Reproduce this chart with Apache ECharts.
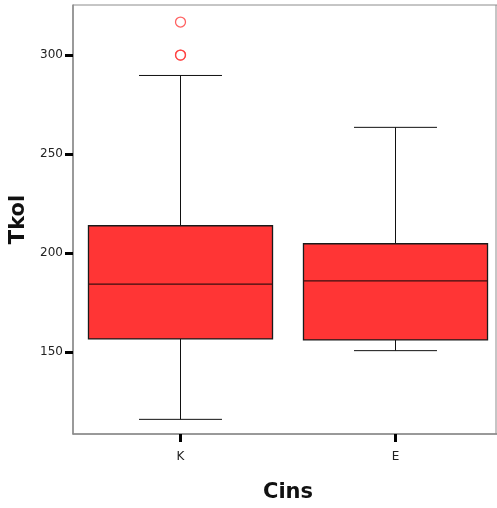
<!DOCTYPE html>
<html>
<head>
<meta charset="utf-8">
<script src="https://cdn.jsdelivr.net/npm/echarts@6/dist/echarts.min.js"></script>
<style>html,body{margin:0;padding:0;background:#fff}#c{width:497px;height:508px}</style>
</head>
<body>
<div id="c"></div>
<script>
// Data
const categories = ['K', 'E'];
const whiskerLow = [116.0, 150.7];
const q1 = [156.6, 156.1];
const median = [184.3, 185.9];
const q3 = [213.8, 204.7];
const whiskerHigh = [289.7, 263.5];
const outlierCat = ['K', 'K', 'K'];
const outlierVal = [300, 300, 316.7];
const yTicks = [150, 200, 250, 300];

const boxData = categories.map((c, i) => [i, whiskerLow[i], q1[i], median[i], q3[i], whiskerHigh[i]]);
const outlierData = outlierCat.map((c, i) => [categories.indexOf(c), outlierVal[i]]);

const font = 'DejaVu Sans';
const chart = echarts.init(document.getElementById('c'), null, {renderer: 'canvas'});

function renderBox(params, api) {
  const idx = api.value(0);
  const band = api.size([1, 0])[0];
  const boxW = band * 0.856;
  const capW = band * 0.386;
  const pLow = api.coord([idx, api.value(1)]);
  const pQ1 = api.coord([idx, api.value(2)]);
  const pMed = api.coord([idx, api.value(3)]);
  const pQ3 = api.coord([idx, api.value(4)]);
  const pHigh = api.coord([idx, api.value(5)]);
  const cx = pQ1[0];
  const lineStyle = {stroke: '#111', lineWidth: 1};
  return {
    type: 'group',
    children: [
      {type: 'line', shape: {x1: cx, y1: pHigh[1], x2: cx, y2: pQ3[1]}, style: lineStyle},
      {type: 'line', shape: {x1: cx, y1: pQ1[1], x2: cx, y2: pLow[1]}, style: lineStyle},
      {type: 'line', shape: {x1: cx - capW / 2, y1: pHigh[1], x2: cx + capW / 2, y2: pHigh[1]}, style: lineStyle},
      {type: 'line', shape: {x1: cx - capW / 2, y1: pLow[1], x2: cx + capW / 2, y2: pLow[1]}, style: lineStyle},
      {type: 'rect', shape: {x: cx - boxW / 2, y: pQ3[1], width: boxW, height: pQ1[1] - pQ3[1]},
        style: {fill: '#ff3535', stroke: '#1a1a1a', lineWidth: 1.3}},
      {type: 'line', shape: {x1: cx - boxW / 2, y1: pMed[1], x2: cx + boxW / 2, y2: pMed[1]},
        style: {stroke: '#3a1010', lineWidth: 1.3}}
    ]
  };
}

chart.setOption({
  animation: false,
  grid: {left: 73, right: -6, top: 5, bottom: 74, show: true, borderColor: '#8c8c8c', borderWidth: 1,
    containLabel: false, outerBoundsMode: 'none'},
  graphic: [
    {type: 'line', shape: {x1: 496, y1: 5, x2: 496, y2: 434}, style: {stroke: '#8c8c8c', lineWidth: 1}, z: 100}
  ],
  xAxis: {
    type: 'category',
    data: categories,
    boundaryGap: true,
    name: 'Cins',
    nameLocation: 'middle',
    nameGap: 48,
    nameTextStyle: {fontFamily: font, fontSize: 21, fontWeight: 'bold', color: '#111'},
    axisLine: {show: true, lineStyle: {color: '#8c8c8c', width: 1.5}},
    axisTick: {show: true, alignWithLabel: true, length: 8, lineStyle: {color: '#000', width: 3}},
    axisLabel: {fontFamily: font, fontSize: 12, color: '#222', margin: 17},
    splitLine: {show: false}
  },
  yAxis: {
    type: 'value',
    min: 108.6,
    max: 325.3,
    name: 'Tkol',
    nameLocation: 'middle',
    nameGap: 43,
    nameRotate: 90,
    nameTextStyle: {fontFamily: font, fontSize: 21, fontWeight: 'bold', color: '#111'},
    axisLine: {show: true, lineStyle: {color: '#8c8c8c', width: 1.5}},
    axisTick: {show: true, length: 8, lineStyle: {color: '#000', width: 3}, customValues: yTicks},
    axisLabel: {fontFamily: font, fontSize: 12, color: '#222', margin: 10, customValues: yTicks},
    splitLine: {show: false}
  },
  series: [
    {
      type: 'custom',
      renderItem: renderBox,
      data: boxData,
      encode: {x: 0, y: [1, 2, 3, 4, 5]},
      z: 2
    },
    {
      type: 'scatter',
      data: outlierData,
      symbol: 'circle',
      symbolSize: 10,
      itemStyle: {color: 'rgba(255,255,255,0)', borderColor: '#ff3b3b', borderWidth: 1.3},
      z: 3
    }
  ]
});
</script>
</body>
</html>
